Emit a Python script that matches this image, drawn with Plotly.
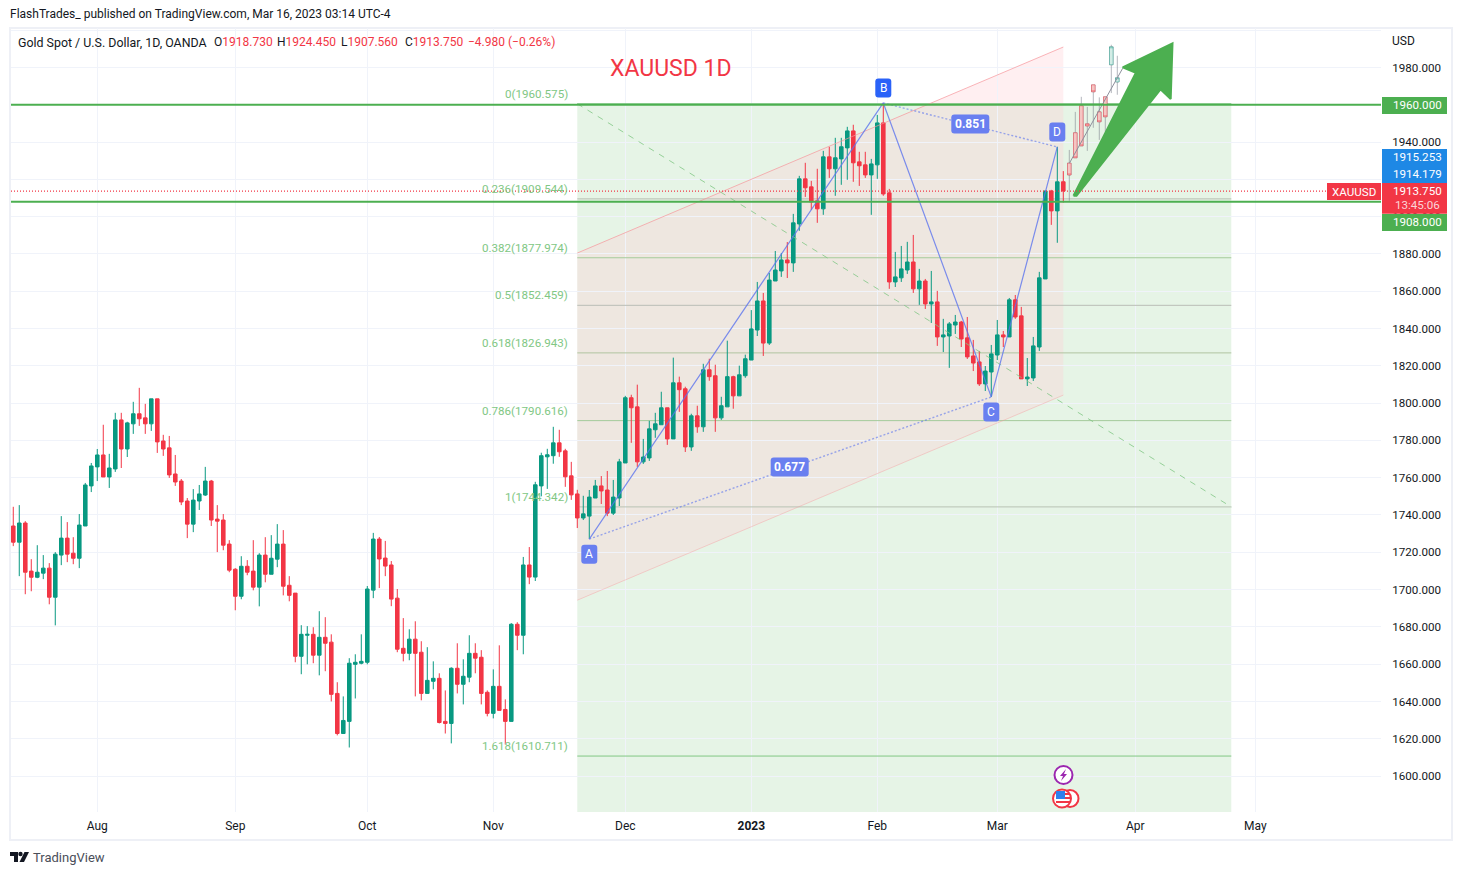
#XAUUSD daily chart with harmonic pattern, fib levels and channel
import plotly.graph_objects as go
import numpy as np

#daily candles, one per session, left to right
opens = [1734.1,1725.4,1735.7,1709.9,1706.6,1708.8,1711.5,1695.9,1718.5,1727.6,
         1719.5,1716.8,1734.1,1755.6,1765.8,1772.2,1760.4,1764.7,1791,1775.4,
         1788.9,1794.3,1792.1,1788.9,1802.3,1779.7,1776,1762,1758.2,1747.5,
         1735.1,1747.5,1750.7,1758.2,1737.8,1737.3,1724.4,1710.9,1696.4,1712.5,
         1709.9,1701.3,1718.5,1708.2,1716.3,1724.4,1702.3,1698.1,1664.2,1675.5,
         1676,1664.8,1674.4,1671.8,1644.3,1622.8,1629.3,1659.9,1660.5,1661,
         1699.7,1727.1,1716.9,1713.2,1695.4,1668.5,1665.8,1673.4,1666.4,1644.3,
         1650.8,1652.4,1629.3,1628.2,1657.8,1649.2,1653,1665.8,1663.7,1644.9,
         1633.6,1648.1,1635.7,1629.3,1681.4,1675.5,1713.2,1706.7,1755.6,1771.2,
         1771.8,1778.7,1774.4,1761,1751.3,1738.4,1739.4,1749.1,1755.6,1753.4,
         1741,1749.1,1767.9,1802.9,1798,1768.5,1770.6,1785.7,1788.4,1797.5,
         1780.8,1810.9,1807.7,1776.5,1793.2,1787.3,1817.9,1814.7,1792.1,1798,
         1814.2,1803.9,1814.7,1823.1,1839.2,1854.8,1832.2,1865.5,1870.9,1876.8,
         1875.2,1896.1,1920.3,1916,1908.5,1904.2,1932.1,1925.7,1931,1936.9,
         1946,1929.4,1927.8,1922.4,1927.8,1950.3,1912.8,1865,1867.2,1871.4,
         1875.7,1861.3,1865.5,1853.2,1854.3,1835.5,1836,1841.9,1843.5,1835,
         1825.3,1822.1,1810.3,1816.7,1825.8,1836.6,1835.5,1855.4,1846.8,1813,
         1813.5,1830.1,1866.6,1913.8,1903.1,1918.73]
highs = [1744.4,1745.3,1736.7,1716.3,1723.8,1718.5,1714.2,1720.1,1739.4,1736.2,
         1728.1,1740.5,1757.2,1767.9,1775.4,1788.4,1772.8,1794.8,1794.8,1790,
         1800.7,1808.2,1799.6,1802.3,1802.3,1783,1782.4,1772.2,1759.3,1749.1,
         1753.9,1756.1,1765.8,1758.8,1745.3,1740.5,1726.5,1711.5,1717.9,1715.8,
         1726.5,1719.5,1728.1,1729.2,1735.1,1731.9,1707.2,1698.1,1680.9,1680.4,
         1679.8,1688.4,1685.2,1676,1650.3,1642.7,1663.2,1665.3,1676,1701.9,
         1730.4,1728.2,1726.1,1715.3,1700.3,1684.7,1678.7,1683,1672.3,1669.1,
         1661.5,1655.1,1645.9,1658.3,1671.2,1662.6,1675.5,1671.2,1667.5,1645.9,
         1657.2,1670.1,1641.1,1682,1682.5,1717.5,1722.8,1757.8,1773.4,1775.5,
         1787.3,1785.7,1775.5,1768.5,1753.5,1750.3,1753.4,1758.8,1760.9,1763.6,
         1758.8,1770.1,1803.9,1804.5,1809.9,1780.8,1790.5,1794.8,1806.1,1797.5,
         1824.4,1814.2,1808.8,1794.3,1798.6,1821.1,1823.8,1820.6,1803.4,1833.5,
         1814.7,1820.1,1826,1849.9,1865,1859.1,1869.8,1881.6,1880.5,1886.4,
         1901.5,1921.9,1928.9,1919.2,1925.7,1935.3,1937.5,1942.3,1942.3,1948.2,
         1949.3,1934.8,1934.8,1931,1954.6,1961,1914.9,1881.1,1884.3,1886.5,
         1890.2,1872,1866.6,1870.9,1860.2,1845.2,1843.5,1847.3,1844.1,1846.2,
         1833.9,1828,1819.9,1831.2,1844.6,1838.7,1856.4,1858,1851.6,1824.2,
         1835.5,1870.4,1913.8,1914.4,1937.5,1924.45]
lows = [1723.3,1707.2,1697.5,1699.1,1706.1,1705.6,1692.1,1680.8,1713.1,1714.7,
        1713.6,1711.5,1734.1,1752.3,1758.2,1760.4,1754.5,1763.1,1765.2,1771.1,
        1783.5,1787.8,1783.5,1785.1,1773.3,1771.7,1759.9,1755.6,1745.3,1727.6,
        1730.8,1742.7,1750.2,1734.1,1720.1,1721.1,1709.3,1688.9,1694.8,1707.7,
        1699.6,1691,1703.9,1708.2,1712,1696.9,1693.7,1661,1654.6,1659.9,
        1660.5,1654,1656.2,1640,1621.8,1622.8,1615.3,1641.6,1659.9,1659.9,
        1695.4,1700.8,1707.2,1691.1,1666.4,1661.5,1662.1,1642.7,1640.6,1644.3,
        1646.5,1628.2,1622.8,1617.5,1644.3,1638.4,1650.3,1655.1,1638.4,1632,
        1630.9,1635.2,1616.9,1629.3,1667.5,1665.3,1702.9,1704.6,1750,1754,
        1767.5,1771.2,1755.1,1748.1,1733,1737.3,1727.1,1749.1,1745.9,1739.4,
        1740,1744.8,1767.9,1778.7,1765.8,1767.4,1769,1781.4,1788.4,1777.6,
        1780.8,1795.3,1773.8,1774.4,1784.1,1784.6,1812,1784.6,1791,1798,
        1797,1803.9,1813.6,1823.1,1836,1825.3,1831.2,1865.5,1867.7,1867.1,
        1870.4,1892.4,1910.6,1903.6,1896.7,1901,1920.8,1911.2,1917.1,1919.8,
        1918.7,1916.5,1920.8,1901,1920.3,1911.2,1861.3,1862.3,1865,1869.3,
        1859.1,1852.7,1850.5,1843,1830.7,1827.4,1818.9,1837.1,1830.1,1823.7,
        1817.2,1809.2,1806.5,1803.3,1823.1,1830.1,1835.5,1845.2,1813,1809.2,
        1811.9,1828,1866.6,1895.6,1886,1907.56]
closes = [1725.4,1735.7,1709.3,1706.6,1709.3,1711.5,1695.9,1719,1727.6,1719,
          1716.8,1734.6,1756.1,1766.3,1772.2,1760.4,1765.2,1791,1775.4,1789.4,
          1794.3,1791.6,1788.9,1802.3,1779.2,1775.4,1761.5,1757.7,1747,1735.1,
          1748,1751.3,1758.2,1737.3,1736.7,1723.8,1710.4,1696.4,1712.5,1709.3,
          1701.3,1718.5,1708.2,1716.8,1724.4,1701.8,1696.9,1664.2,1676,1676,
          1664.8,1674.4,1671.2,1643.8,1622.8,1629.8,1660.5,1661,1661.5,1700.3,
          1727.1,1716.4,1712.6,1694.9,1668,1665.8,1673.4,1665.8,1644.3,1651.3,
          1652.4,1628.7,1628.2,1657.8,1649.2,1653.5,1665.8,1663.2,1644.3,1633.6,
          1648.1,1635.2,1629.3,1681.4,1675.5,1713.2,1706.7,1756.2,1771.8,1772.3,
          1778.7,1773.9,1760.5,1750.8,1738.4,1740.6,1749.6,1755.6,1752.9,1741,
          1749.6,1768.5,1802.9,1797.5,1768.5,1771.1,1786.2,1788.9,1797.5,1780.8,
          1810.9,1807.2,1776.5,1793.2,1787.3,1817.9,1814.2,1792.1,1798.6,1814.2,
          1803.9,1815.2,1823.8,1839.8,1854.8,1832.2,1866,1871.4,1876.8,1875.2,
          1896.7,1920.3,1915.5,1907.9,1904.2,1932.1,1925.7,1931.6,1937.5,1946,
          1928.9,1927.3,1922.4,1928.3,1950.3,1912.2,1865,1867.7,1872,1875.7,
          1861.3,1865.5,1853.2,1854.3,1835.5,1836.6,1842.5,1843.5,1834.4,1824.8,
          1821.5,1810.3,1817.2,1826.4,1836.6,1835.5,1855.4,1846.2,1813,1814,
          1830.7,1867.2,1913.8,1903.1,1918.7,1913.75]

#projected (ghost) bars after the last session
ghost_x = [176,177,178,179,180,181,182,183,184]
ghost_open = [1928.7,1945,1959.5,1949.8,1970.7,1956.2,1964.3,1981.5,1972.3]
ghost_high = [1935.8,1956.2,1964.3,1958.9,1970.7,1964,1964.3,1992.2,1986.3]
ghost_low = [1908.5,1931.6,1938,1935.3,1947.7,1941.2,1945.5,1966.3,1965.4]
ghost_close = [1922.4,1931.6,1938,1948.7,1967,1950.9,1953.6,1991.1,1974.5]
ghost_line_x = [176,184.9]
ghost_line_y = [1928.6,1979.6]

#axes
month_pos = [14,37,59,80,102,123,144,164,187,207]
month_labels = ['Aug','Sep','Oct','Nov','Dec','<b>2023</b>','Feb','Mar','Apr','May']
price_ticks = list(range(1600,2001,20))
price_labels = ['%d.000'%p if p<2000 else '' for p in price_ticks]

#fib levels
fib_ratio = ['0','0.236','0.382','0.5','0.618','0.786','1','1.618']
fib_price = [1960.575,1909.544,1877.974,1852.459,1826.943,1790.616,1744.342,1610.711]
fib_color = ['#81c784','#b5bdb0','#a5cb9b','#b9bdb6','#b0c4a0','#a5cb9b','#b9c2b4','#81c784']
fib_start = 94
fib_end = 203
fib_bottom = 1575

#channel
chan_x = [94,175]
chan_upper = [1880.5,1991]
chan_lower = [1694.3,1804.3]

#harmonic pattern
abcd_name = ['A','B','C','D']
abcd_x = [96,145,163,174]
abcd_y = [1727.1,1961,1803.3,1937.4]
badge_y = [1719,1969,1795.2,1945.4]
ratio_text = ['0.677','0.851']
ratio_x = [129.4,159.5]
ratio_y = [1765.7,1949.7]

#hand drawn arrow
arrow_x = [176.7,187.1,184.9,193.2,192.9,191.2,177.2,176.7]
arrow_y = [1911.2,1977.2,1980.1,1993,1963.1,1968.3,1911.2,1911.2]

#price level lines
level_prices = [1960,1908]
last_price = 1913.75

RED = '#f23645'
TEAL = '#089981'
GREEN = '#4caf50'
BLUE = '#1e88e5'
BADGE = '#697ff0'
TEXT = '#131722'
FONT = 'Roboto'

W = 1462
H = 875
X_RANGE = [-0.38,227.95]
Y_RANGE = [1580.7,2001.2]
def px(x): return x/W
def py(y): return 1-y/H
#data to pixels, for the rounded badges
def data_px(x): return 11+(x-X_RANGE[0])/(X_RANGE[1]-X_RANGE[0])*1370
def data_py(y): return 28+(Y_RANGE[1]-y)/(Y_RANGE[1]-Y_RANGE[0])*784

fig = go.Figure()

def label(x, y, text, color=TEXT, size=12, anchor='center'):
    #text placed by picture pixels
    fig.add_annotation(xref='paper', yref='paper', x=px(x), y=py(y), text=text, showarrow=False,
                       xanchor=anchor, yanchor='middle', font=dict(color=color, size=size, family=FONT))

def round_box(cx, cy, w, h, fill, r=3):
    x0,x1,y0,y1 = cx-w/2,cx+w/2,cy-h/2,cy+h/2
    d = 'M %f %f L %f %f Q %f %f %f %f L %f %f Q %f %f %f %f L %f %f Q %f %f %f %f L %f %f Q %f %f %f %f Z'%(
        px(x0+r),py(y0),px(x1-r),py(y0),px(x1),py(y0),px(x1),py(y0+r),
        px(x1),py(y1-r),px(x1),py(y1),px(x1-r),py(y1),
        px(x0+r),py(y1),px(x0),py(y1),px(x0),py(y1-r),
        px(x0),py(y0+r),px(x0),py(y0),px(x0+r),py(y0))
    fig.add_shape(type='path', xref='paper', yref='paper', path=d, fillcolor=fill, line_width=0, layer='above')

#fib and channel backgrounds sit under the grid
fig.add_shape(type='rect', x0=fib_start, x1=fib_end, y0=fib_bottom, y1=fib_price[0],
              fillcolor='rgba(76,175,80,0.14)', line_width=0, layer='below')
chan_path = 'M %f %f L %f %f L %f %f L %f %f Z'%(chan_x[0],chan_upper[0],chan_x[1],chan_upper[1],
                                                chan_x[1],chan_lower[1],chan_x[0],chan_lower[0])
fig.add_shape(type='path', path=chan_path, fillcolor='rgba(255,205,210,0.32)', line_width=0, layer='below')

for i in range(len(fib_price)):
    fig.add_shape(type='line', x0=fib_start, x1=fib_end, y0=fib_price[i], y1=fib_price[i],
                  line=dict(color=fib_color[i], width=1), layer='between')
    fig.add_annotation(x=fib_start, y=fib_price[i], text='%s(%.3f)'%(fib_ratio[i],fib_price[i]),
                       showarrow=False, xanchor='right', yanchor='middle', xshift=-7, yshift=10,
                       font=dict(color='#81c784', size=11.6, family=FONT))

#channel borders
fig.add_trace(go.Scatter(x=chan_x, y=chan_upper, mode='lines', line=dict(color='rgba(247,150,155,0.7)', width=1)))
fig.add_trace(go.Scatter(x=chan_x, y=chan_lower, mode='lines', line=dict(color='rgba(247,150,155,0.4)', width=1)))

#fib trend line
fig.add_trace(go.Scatter(x=[fib_start,fib_end], y=[fib_price[0],fib_price[6]], mode='lines',
                         line=dict(color='rgba(129,199,132,0.8)', width=1, dash='6px,6px')))

#candles
fig.add_trace(go.Candlestick(x=list(range(len(opens))), open=opens, high=highs, low=lows, close=closes,
                             increasing=dict(line=dict(color=TEAL, width=1), fillcolor=TEAL),
                             decreasing=dict(line=dict(color=RED, width=1), fillcolor=RED),
                             whiskerwidth=0))

#ghost bars: grey wicks first, then coloured bodies only
fig.add_trace(go.Candlestick(x=ghost_x, open=ghost_open, high=ghost_high, low=ghost_low, close=ghost_close,
                             increasing=dict(line=dict(color='rgba(120,123,134,0.55)', width=1), fillcolor='rgba(0,0,0,0)'),
                             decreasing=dict(line=dict(color='rgba(120,123,134,0.55)', width=1), fillcolor='rgba(0,0,0,0)'),
                             whiskerwidth=0))
fig.add_trace(go.Candlestick(x=ghost_x, open=ghost_open, close=ghost_close,
                             high=np.maximum(ghost_open,ghost_close), low=np.minimum(ghost_open,ghost_close),
                             increasing=dict(line=dict(color='rgba(8,153,129,0.4)', width=1), fillcolor='#d3ece6'),
                             decreasing=dict(line=dict(color='rgba(242,54,69,0.45)', width=1), fillcolor='#f4c6c3'),
                             whiskerwidth=0))
fig.add_trace(go.Scatter(x=ghost_line_x, y=ghost_line_y, mode='lines', line=dict(color='#8d8f9c', width=1)))

#ABCD lines
fig.add_trace(go.Scatter(x=abcd_x, y=abcd_y, mode='lines', line=dict(color='rgba(92,116,238,0.8)', width=1.2)))
fig.add_trace(go.Scatter(x=[abcd_x[0],abcd_x[2]], y=[abcd_y[0],abcd_y[2]], mode='lines',
                         line=dict(color='rgba(92,116,238,0.6)', width=1.4, dash='2px,2px')))
fig.add_trace(go.Scatter(x=[abcd_x[1],abcd_x[3]], y=[abcd_y[1],abcd_y[3]], mode='lines',
                         line=dict(color='rgba(92,116,238,0.6)', width=1.4, dash='2px,2px')))

#arrow
fig.add_trace(go.Scatter(x=arrow_x, y=arrow_y, mode='lines', fill='toself', fillcolor=GREEN,
                         line=dict(color=GREEN, width=2)))

#level lines and last price
for p in level_prices:
    fig.add_shape(type='line', xref='x domain', x0=0, x1=1, y0=p, y1=p, line=dict(color=GREEN, width=2), layer='above')
fig.add_shape(type='line', xref='x domain', x0=0, x1=1, y0=last_price, y1=last_price,
              line=dict(color=RED, width=1.3, dash='1px,2px'), layer='above')

#badges on the pattern
for i in range(4):
    round_box(data_px(abcd_x[i]), data_py(badge_y[i]), 16, 19, '#2a62f8' if abcd_name[i]=='B' else BADGE)
    fig.add_annotation(x=abcd_x[i], y=badge_y[i], text=abcd_name[i], showarrow=False, yanchor='middle',
                       font=dict(color='white', size=12, family=FONT))
for i in range(2):
    round_box(data_px(ratio_x[i]), data_py(ratio_y[i]), 38, 19, BADGE)
    fig.add_annotation(x=ratio_x[i], y=ratio_y[i], text='<b>%s</b>'%ratio_text[i], showarrow=False, yanchor='middle',
                       font=dict(color='white', size=12, family=FONT))

#price tags on the right axis: text, left, top, bottom, fill, text colour
tags = [('1960.000',1382,97,114,GREEN,'white'),
        ('1915.253',1382,149,166,BLUE,'white'),
        ('1914.179',1382,166,183,BLUE,'white'),
        ('1913.750',1382,183,199,RED,'white'),
        ('13:45:06',1382,197,213.7,RED,'#fbd5d8'),
        ('1908.000',1382,214,231,GREEN,'white')]
for text,x,top,bottom,fill,col in tags:
    fig.add_shape(type='rect', xref='paper', yref='paper', x0=px(x), x1=px(1447), y0=py(bottom), y1=py(top),
                  fillcolor=fill, line_width=0, layer='above')
    label(1417, (top+bottom)/2, text, col, 11.6)
fig.add_shape(type='rect', xref='paper', yref='paper', x0=px(1327), x1=px(1381), y0=py(200), y1=py(183),
              fillcolor=RED, line_width=0, layer='above')
label(1354, 191.5, 'XAUUSD', 'white', 11.6)
label(1390, 41, 'USD', TEXT, 12, 'left')

#header texts
label(8, 14, 'FlashTrades_ published on TradingView.com, Mar 16, 2023 03:14 UTC-4', TEXT, 12, 'left')
ohlc_x = [16,212,275,339,403,466]
ohlc_size = [12.4,12,12,12,12,12]
ohlc_text = ['Gold Spot / U.S. Dollar, 1D, OANDA',
             'O<span style="color:%s">1918.730</span>'%RED,
             'H<span style="color:%s">1924.450</span>'%RED,
             'L<span style="color:%s">1907.560</span>'%RED,
             'C<span style="color:%s">1913.750</span>'%RED,
             '<span style="color:%s">\u22124.980 (\u22120.26%%)</span>'%RED]
for x,t,s in zip(ohlc_x,ohlc_text,ohlc_size):
    label(x, 42, t, TEXT, s, 'left')
label(671, 69, 'XAUUSD 1D', RED, 23)

#chart frame
fig.add_shape(type='rect', xref='paper', yref='paper', x0=px(10), x1=px(1452), y0=py(840), y1=py(28),
              line=dict(color='#eef0f6', width=2), layer='below')

#event icons
def circle(cx, cy, r, line, fill='white'):
    fig.add_shape(type='circle', xref='paper', yref='paper', x0=px(cx-r), x1=px(cx+r), y0=py(cy+r), y1=py(cy-r),
                  line=dict(color=line, width=2), fillcolor=fill, layer='above')
def poly(pts, fill):
    d = 'M ' + ' L '.join('%f %f'%(px(a),py(b)) for a,b in pts) + ' Z'
    fig.add_shape(type='path', xref='paper', yref='paper', path=d, fillcolor=fill, line_width=0, layer='above')

circle(1063.5,775,9,'#9c27b0')
poly([(1066,769),(1060,776),(1063,776),(1061,781),(1067,774),(1064,774)],'#9c27b0')
circle(1070,798.5,8.5,RED)
circle(1062,798.5,9,RED)
for sy in [793,797,801]:
    poly([(1056,sy),(1070,sy),(1070,sy+2),(1056,sy+2)],RED)
poly([(1056,791),(1065,791),(1065,799),(1056,799)],'#2f80ed')

#TradingView logo
poly([(10,852),(18,852),(18,862),(14,862),(14,856),(10,856)],'#131722')
circle(20.5,854,1.2,'#131722','#131722')
poly([(24.5,852),(29,852),(24,862),(19.5,862)],'#131722')
label(31, 857, 'TradingView', '#4a4e59', 13, 'left')

fig.update_layout(
    width=W,
    height=H,
    margin=dict(l=0, r=0, t=0, b=0),
    paper_bgcolor='white',
    plot_bgcolor='white',
    showlegend=False,
    hovermode=False,
    boxgap=0.15,
    font=dict(family=FONT, size=12, color=TEXT),
    xaxis=dict(domain=[px(11),px(1381)], range=X_RANGE, rangeslider=dict(visible=False),
               tickmode='array', tickvals=month_pos, ticktext=month_labels, showgrid=True, gridcolor='#f0f3fa',
               gridwidth=1, zeroline=False, showline=False, ticks='outside', ticklen=3, tickcolor='rgba(0,0,0,0)',
               tickfont=dict(size=12, color=TEXT)),
    yaxis=dict(domain=[py(812),py(28)], range=Y_RANGE, side='right', tickmode='array', tickvals=price_ticks,
               ticktext=price_labels, showgrid=True, gridcolor='#f0f3fa', gridwidth=1, zeroline=False, showline=False,
               ticks='outside', ticklen=8, tickcolor='rgba(0,0,0,0)', tickfont=dict(size=11.6, color=TEXT)),
)

fig.write_html("out.html", config=dict(displayModeBar=False),
               post_script="document.body.style.margin='0';")
